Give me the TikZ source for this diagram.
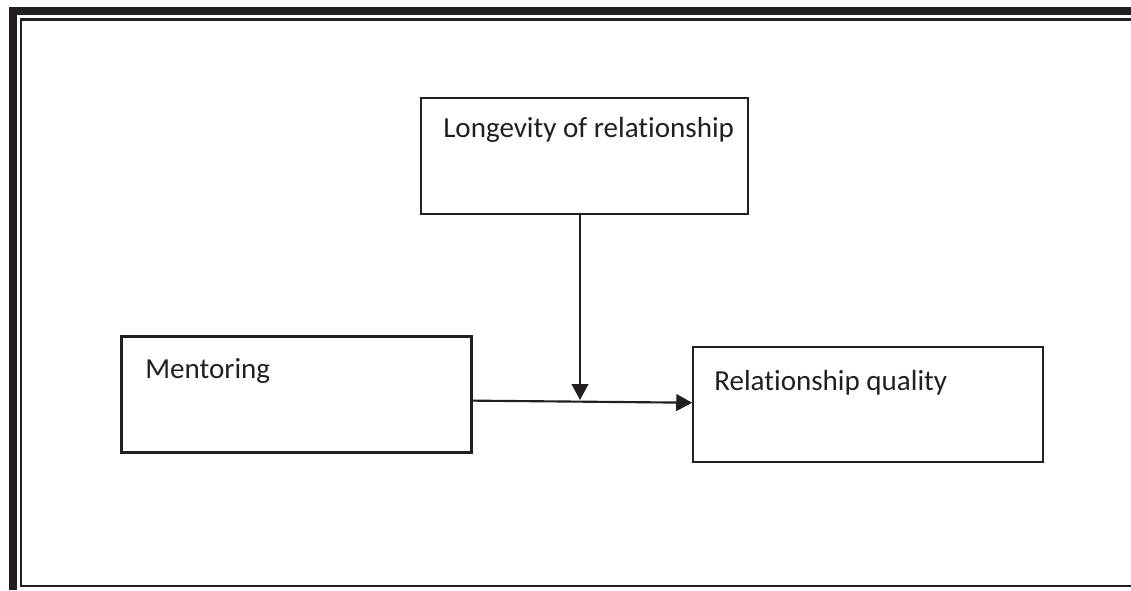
\documentclass[tikz,border=0pt]{standalone}
\usepackage{fontspec}
\setmainfont[Ligatures=NoCommon,RawFeature={-liga;-clig;-dlig}]{Carlito}
\usetikzlibrary{arrows.meta}
\definecolor{ink}{HTML}{231F20}
\begin{document}
\begin{tikzpicture}[x=0.75pt,y=-0.75pt,
  box/.style={draw=ink,line width=1.6pt,minimum width=#1,inner sep=0pt},
  lbl/.style={anchor=base west,inner sep=0pt,text=ink,font=\fontsize{21.8pt}{26pt}\selectfont},
  arr/.style={draw=ink,line width=1.6pt,-{Triangle[length=12pt,width=12.5pt]}},
  frame thick/.style={draw=ink,line width=6pt},
  frame thin/.style={draw=ink,line width=2.2pt}]
\useasboundingbox (0,0) rectangle (1131,590);
% frame
\draw[frame thick] (13,11) -- (1131,11);
\draw[frame thick] (13,7) -- (13,590);
\draw[frame thin] (1131,19.2) -- (21,19.2) -- (21,586) -- (1131,586);
% boxes
\node[box=245.25pt,minimum height=87pt] (l) at (584.5,156) {};
\node[box=262.5pt,minimum height=87pt] (m) at (296.5,394.5) {};
\node[box=262.5pt,minimum height=86.7pt] (q) at (868.3,404.5) {};
% texts
\node[lbl] (lt) at (443,137) {Longevity of relationship};
\node[lbl] (mt) at (145,378) {Mentoring};
\node[lbl] (qt) at (714,390) {Relationship quality};
% connectors
\coordinate (j) at (580,400);
\draw[arr] ([yshift=-4.6pt]m.east) -- ([yshift=1.35pt]q.west);
\draw[arr] (l.south -| j) -- (j);
\end{tikzpicture}
\end{document}
